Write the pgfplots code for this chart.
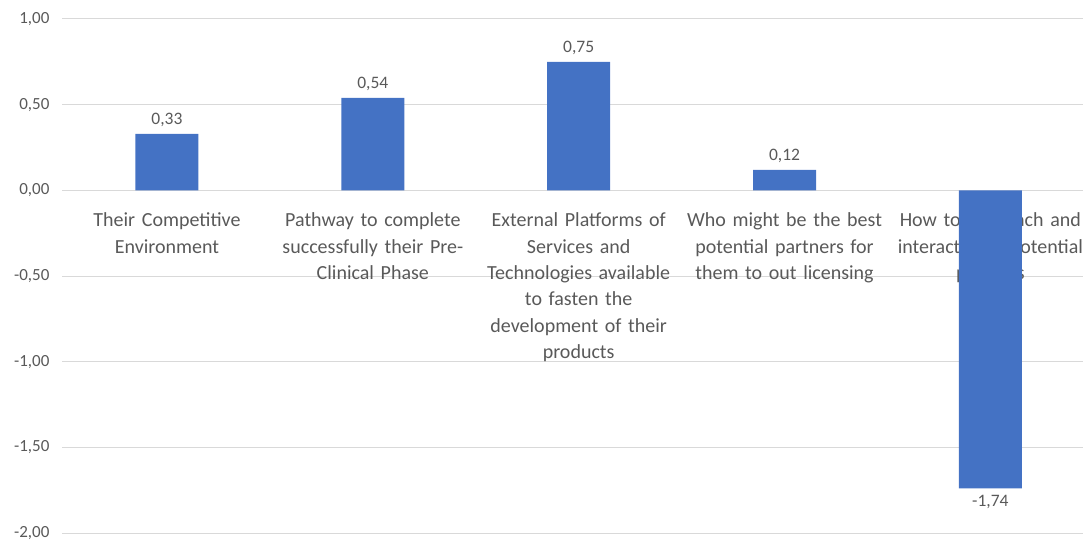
\documentclass[border=0pt]{standalone}
\usepackage{pgfplots}
\pgfplotsset{compat=1.18}
\usepackage{fontspec}
\setmainfont{Carlito}
\definecolor{barblue}{HTML}{4472C4}
\definecolor{txtgray}{HTML}{595959}
\definecolor{gridgray}{HTML}{D9D9D9}
\begin{document}
\begin{tikzpicture}
\begin{axis}[
 name=ax, set layers, scale only axis, width=1021pt, height=514pt,
 xmin=-0.51, xmax=4.45, ymin=-2, ymax=1,
 axis x line*=middle, axis y line*=left,
 axis line style={draw=none},
 every inner x axis line/.append style={-},
 every outer y axis line/.append style={-},
 xtick=data,
 xticklabels={{Their Competitive\\Environment},{Pathway to complete\\successfully their Pre-\\Clinical Phase},{External Platforms of\\Services and\\Technologies available\\to fasten the\\development of their\\products},{Who might be the best\\potential partners for\\them to out licensing},{How to approach and\\interact with potential\\partners}},
 ytick={-2,-1.5,-1,-0.5,0,0.5,1},
 major tick length=0pt,
 ymajorgrids, grid style={gridgray, line width=1pt},
 /pgf/number format/.cd, use comma, fixed, fixed zerofill, precision=2, assume math mode=true, /pgfplots/.cd,
 yticklabel style={font=\fontsize{17}{20}\selectfont, text=txtgray, xshift=-9pt},
 xticklabel style={font=\fontsize{20}{26.4}\selectfont, text=txtgray, text width=200pt, align=center, anchor=north, yshift=-19pt},
]
\addplot[ybar, bar width=63pt, fill=barblue, draw=none, nodes near coords,
  every node near coord/.append style={font=\fontsize{17.5}{20}\selectfont, text=txtgray, inner sep=7pt}]
  coordinates {(0,0.33) (1,0.54) (2,0.75) (3,0.12) (4,-1.74)};
\end{axis}
\pgfresetboundingbox
\path[use as bounding box] ([xshift=-62pt,yshift=-9pt]ax.south west) rectangle ([yshift=19pt]ax.north east);
\end{tikzpicture}
\end{document}
